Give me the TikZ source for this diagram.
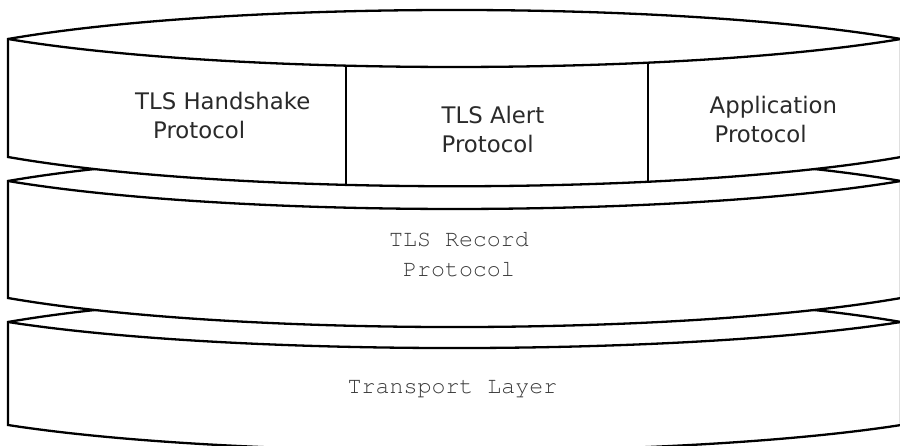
\documentclass[tikz,border=0pt]{standalone}
\usepackage[T1]{fontenc}
\usepackage{fontspec}
\newfontfamily\labelsans{DejaVu Sans}
\newcommand\labelmono{\fontencoding{T1}\fontfamily{pcr}\selectfont}
\definecolor{txt}{HTML}{2A2A2A}
\definecolor{monotxt}{HTML}{3A3A3A}
\begin{document}
\begin{tikzpicture}[x=1pt,y=-1pt,
  band/.style={draw=black, fill=white, line width=2.3pt, line join=miter},
  edge/.style={draw=black, line width=2.3pt},
  divider/.style={draw=black, line width=2pt},
  sanslabel/.style={inner sep=0pt, font=\labelsans\fontsize{22.8}{29}\selectfont, text=txt, align=left},
  monolabel/.style={inner sep=0pt, font=\labelmono\fontsize{23.3}{29.3}\selectfont, text=monotxt, align=center}]
\useasboundingbox (0,0) rectangle (900,445);
% Transport layer band
\path[band] (8,322) .. controls (231.25,283.3) and (677.75,283.3) .. (901,322) -- (901,425)
  .. controls (677.75,459.7) and (231.25,459.7) .. (8,425) -- cycle;
\draw[edge] (8,322) .. controls (231.25,356.7) and (677.75,356.7) .. (901,322);
% TLS record band
\path[band] (8,181) .. controls (231.25,142.3) and (677.75,142.3) .. (901,181) -- (901,298)
  .. controls (677.75,336.7) and (231.25,336.7) .. (8,298) -- cycle;
\draw[edge] (8,181) .. controls (231.25,218.3) and (677.75,218.3) .. (901,181);
% top band
\path[band] (8,39) .. controls (231.25,0.3) and (677.75,0.3) .. (901,39) -- (901,157)
  .. controls (677.75,196) and (231.25,196) .. (8,157) -- cycle;
\draw[edge] (8,39) .. controls (231.25,76.3) and (677.75,76.3) .. (901,39);
% dividers
\draw[divider] (346,65) -- (346,185);
\draw[divider] (648,62.5) -- (648,182);
% labels (anchor base = baseline of last line)
\node[sanslabel, anchor=base west] (hs) at (135,138.5) {TLS Handshake\\\hspace*{18pt}Protocol};
\node[sanslabel, anchor=base west] (al) at (441.5,152) {TLS Alert\\Protocol};
\node[sanslabel, anchor=base west] (ap) at (709.5,142.5) {Application\\\hspace*{5pt}Protocol};
\node[monolabel, anchor=base] (rec) at (459,276) {TLS Record\\Protocol};
\node[monolabel, anchor=base] (tr) at (452.5,393.3) {Transport Layer};
\end{tikzpicture}
\end{document}
